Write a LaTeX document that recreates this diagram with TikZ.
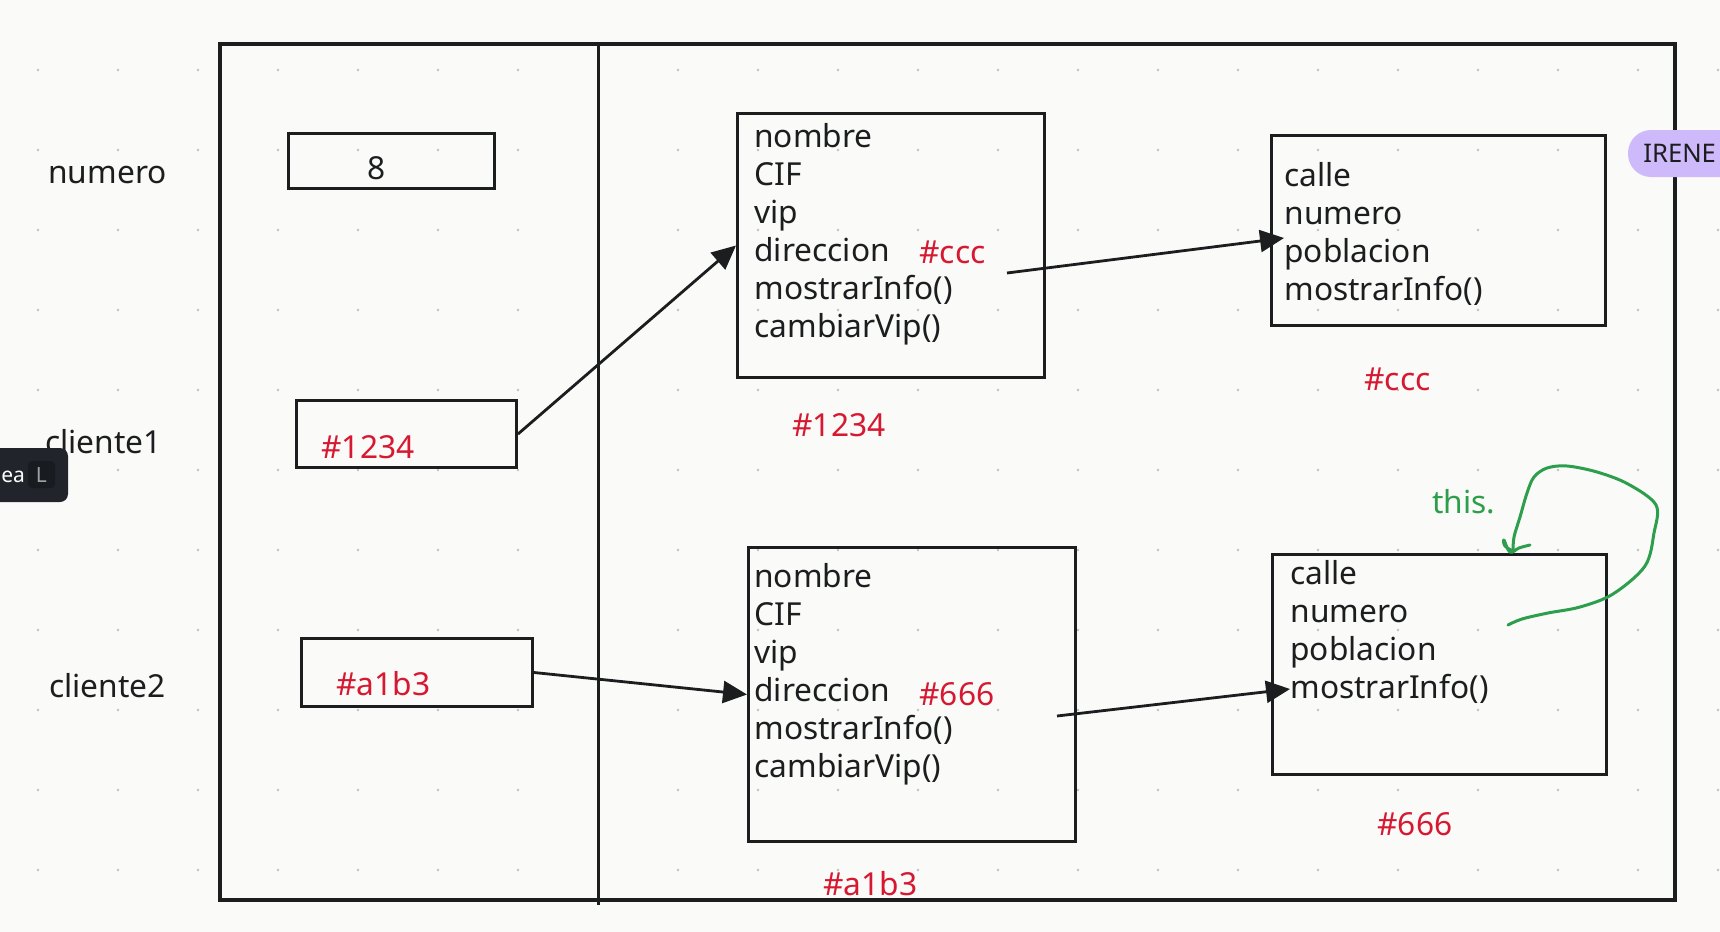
\documentclass[tikz,border=0pt]{standalone}
\usepackage{fontspec}
\setmainfont{Noto Sans}
\usetikzlibrary{arrows.meta, calc}

\definecolor{paper}{RGB}{250,250,249}
\definecolor{ink}{RGB}{27,29,31}
\definecolor{dotgray}{RGB}{192,192,192}
\definecolor{addrred}{RGB}{214,24,48}
\definecolor{thisgreen}{RGB}{45,158,75}
\definecolor{irenepurple}{RGB}{206,186,250}
\definecolor{tagdark}{RGB}{33,37,43}
\definecolor{keydark}{RGB}{24,27,32}
\definecolor{keygray}{RGB}{160,160,160}

\begin{document}
\begin{tikzpicture}[
x=0.5pt, y=-0.5pt,
font=\fontsize{15.85}{19}\selectfont, text=ink,
blank/.style={anchor=base west, inner sep=0pt},
addr/.style={blank, text=addrred},
var-box/.style={rectangle, draw=ink, line width=1.5pt, inner sep=0pt},
obj-box/.style={var-box},
field/.style={text width=110pt, align=left, inner sep=0pt,
text height=0.75em, text depth=0.25em, node distance=19pt},
line/.style={draw=ink, line width=1.4pt, -{Triangle[length=12pt, width=11pt]}}
]

\useasboundingbox (0,0) rectangle (1720,932);
\clip (0,0) rectangle (1720,932);
\fill [paper] (0,0) rectangle (1720,932);

% dotted canvas
\foreach \gx in {38,118,...,1718}
  \foreach \gy in {70,150,...,870}
    \fill [dotgray] (\gx,\gy) circle (0.7pt);

% stack | heap
\draw [ink, line width=1.6pt] (220,44) rectangle (1675,900);
\draw [ink, line width=1.5pt] (598,42) -- (598,905);

% variables
\node [blank] (lbl-numero) at (48,183) {numero};
\node [blank] (lbl-cliente1) at (45,453) {cliente1};
\node [blank] (lbl-cliente2) at (49,697) {cliente2};

\node [var-box, minimum width=103pt, minimum height=27.5pt] (numero) at (391.5,161) {};
\node [blank] (numero-val) at (367,179) {8};
\node [var-box, minimum width=110pt, minimum height=33.5pt] (cliente1) at (406.5,434) {};
\node [addr] (cliente1-val) at (321,458) {\#1234};
\node [var-box, minimum width=115.5pt, minimum height=34pt] (cliente2) at (417,672.5) {};
\node [addr] (cliente2-val) at (336,695) {\#a1b3};

% cliente objects
\node [obj-box, minimum width=153.5pt, minimum height=132pt] (c1) at (891,245.5) {};
\node [field, anchor=west] (c1-nombre) at (754,142) {nombre};
\node [field, below of=c1-nombre] (c1-cif) {CIF};
\node [field, below of=c1-cif] (c1-vip) {vip};
\node [field, below of=c1-vip] (c1-dir) {direccion};
\node [field, below of=c1-dir] (c1-info) {mostrarInfo()};
\node [field, below of=c1-info] (c1-cambiar) {cambiarVip()};
\node [addr] (c1-ref) at (919,263) {\#ccc};
\node [addr] (c1-addr) at (792,436) {\#1234};

\node [obj-box, minimum width=163.5pt, minimum height=147pt] (c2) at (912,694.5) {};
\node [field, anchor=west] (c2-nombre) at (754,582) {nombre};
\node [field, below of=c2-nombre] (c2-cif) {CIF};
\node [field, below of=c2-cif] (c2-vip) {vip};
\node [field, below of=c2-vip] (c2-dir) {direccion};
\node [field, below of=c2-dir] (c2-info) {mostrarInfo()};
\node [field, below of=c2-info] (c2-cambiar) {cambiarVip()};
\node [addr] (c2-ref) at (919,705) {\#666};
\node [addr] (c2-addr) at (823,895) {\#a1b3};

% direccion objects
\node [obj-box, minimum width=167pt, minimum height=95pt] (d1) at (1438.5,230.5) {};
\node [field, anchor=west] (d1-calle) at (1284,181) {calle};
\node [field, below of=d1-calle] (d1-numero) {numero};
\node [field, below of=d1-numero] (d1-poblacion) {poblacion};
\node [field, below of=d1-poblacion] (d1-info) {mostrarInfo()};
\node [addr] (d1-addr) at (1364,390) {\#ccc};

\node [obj-box, minimum width=167pt, minimum height=110pt] (d2) at (1439.5,664.5) {};
\node [field, anchor=west] (d2-calle) at (1290,579) {calle};
\node [field, below of=d2-calle] (d2-numero) {numero};
\node [field, below of=d2-numero] (d2-poblacion) {poblacion};
\node [field, below of=d2-poblacion] (d2-info) {mostrarInfo()};
\node [addr] (d2-addr) at (1377,835) {\#666};

% references
\coordinate (c1-out) at (1007,273);
\coordinate (c2-out) at (1057,716);
\coordinate (d1-in) at ($(d1-numero.west)!0.5!(d1-poblacion.west)$);

\draw [line] (cliente1.east) -- (c1.west);
\draw [line] (cliente2.east) -- (c2.west);
\draw [line] (c1-out) -- (d1-in);
\draw [line] (c2-out) -- ([yshift=2pt]d2-info.west);

% this.
\node [blank, text=thisgreen] (this) at (1432,513) {this.};
\draw [thisgreen, line width=1.5pt, line cap=round, line join=round]
  plot [smooth, tension=0.55] coordinates {(1508,625) (1522,619) (1548,613) (1580,607)
  (1613,594) (1645,566) (1654,533) (1656,505) (1628,484) (1597,472) (1567,466)
  (1547,468) (1534,477) (1527,493) (1520,517) (1514,537) (1513,551)};
\draw [thisgreen, line width=1.5pt, line cap=round, line join=round]
  plot [smooth, tension=0.7] coordinates {(1513,551) (1505,546) (1504,540)
  (1510,552) (1519,548) (1530,545)};

% overlays
\fill [irenepurple, rounded corners=11.5pt] (1628,130) rectangle (1780,177);
\node [blank, font=\fontsize{12.8}{15}\selectfont] (irene) at (1643,162) {IRENE};

\fill [tagdark, rounded corners=4pt] (-20,448) rectangle (68,502);
\node [blank, text=white,
  font=\fontsize{10.5}{13}\selectfont\bfseries] (tag-text) at (1,482) {ea};
\fill [keydark, rounded corners=2pt] (28,461) rectangle (55,488);
\node [inner sep=0pt, text=keygray, font=\fontsize{10.5}{12}\selectfont] (tag-key) at (41.5,474.5) {L};

\end{tikzpicture}
\end{document}
